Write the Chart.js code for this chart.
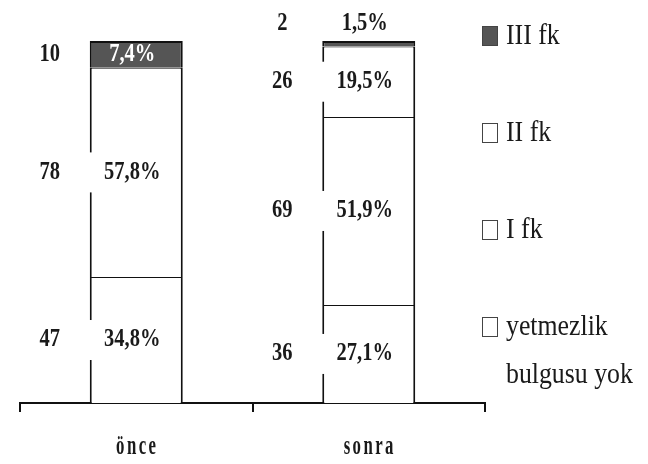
<!DOCTYPE html>
<html>
<head>
<meta charset="utf-8">
<script src="https://cdn.jsdelivr.net/npm/chart.js@4/dist/chart.umd.min.js"></script>
<style>
  html, body { margin: 0; padding: 0; background: #fff; }
</style>
</head>
<body>
<canvas id="fkChart" width="648" height="464"></canvas>
<script>
// Kategoriler ve seriler
const categories = ["önce", "sonra"];
const seriesNames = ["yetmezlik\nbulgusu yok", "I fk", "II fk", "III fk"];

// Hasta sayıları
const countYok = [47, 36];
const countI = [78, 69];
const countII = [0, 26];
const countIII = [10, 2];

// Yüzdeler (%)
const pctYok = [34.8, 27.1];
const pctI = [57.8, 51.9];
const pctII = [0, 19.5];
const pctIII = [7.4, 1.5];

const fills = ["#ffffff", "#ffffff", "#ffffff", "#555555"];
const ink = "#1a1a1a";
const serif = '"Liberation Serif", "Times New Roman", serif';

const datasets = [pctYok, pctI, pctII, pctIII].map((vals, i) => ({
  label: seriesNames[i],
  data: vals,
  counts: [countYok, countI, countII, countIII][i],
  backgroundColor: fills[i],
  borderColor: "#111111",
  borderWidth: { left: 2, right: 2, top: i === 3 ? 2 : 1, bottom: 0 },
  borderSkipped: false,
  barPercentage: 0.4,
  categoryPercentage: 1,
}));

// narrow text, like the condensed print font
function squeezeText(ctx, text, x, y, scaleX) {
  ctx.save();
  ctx.translate(x, y);
  ctx.scale(scaleX, 1);
  ctx.fillText(text, 0, 0);
  ctx.restore();
}

// percentage inside each segment, patient count to the left of the bar
const segmentLabels = {
  id: "segmentLabels",
  afterDatasetsDraw(chart) {
    const ctx = chart.ctx;
    ctx.save();
    ctx.font = "bold 25px " + serif;
    ctx.textAlign = "center";
    ctx.textBaseline = "middle";
    chart.data.datasets.forEach((ds, i) => {
      const meta = chart.getDatasetMeta(i);
      meta.data.forEach((bar, j) => {
        const v = ds.data[j];
        if (!v) return;
        const { x, y, base, width } = bar.getProps(["x", "y", "base", "width"], true);
        const small = v < 3;
        const cy = small ? y - 17 : (y + base) / 2;
        const px = x - 4;
        const pct = v.toFixed(1).replace(".", ",") + "%";
        const dark = ds.backgroundColor !== "#ffffff";
        if (!small && !dark) {
          ctx.fillStyle = "#ffffff";
          ctx.fillRect(px - 44, cy - 20, 88, 40);
        }
        ctx.fillStyle = dark && !small ? "#ffffff" : ink;
        squeezeText(ctx, pct, px, cy, 0.82);
        ctx.fillStyle = ink;
        squeezeText(ctx, String(ds.counts[j]), x - width / 2 - 40, cy, 0.82);
      });
    });
    ctx.restore();
  },
};

// category names under the axis and the legend on the right
const sideLegend = {
  id: "sideLegend",
  afterDraw(chart) {
    const ctx = chart.ctx;
    const area = chart.chartArea;
    const xScale = chart.scales.x;

    ctx.save();
    ctx.fillStyle = ink;
    ctx.font = "bold 28px " + serif;
    ctx.textAlign = "center";
    ctx.textBaseline = "middle";
    ctx.letterSpacing = "4px";
    categories.forEach((c, j) => {
      squeezeText(ctx, c, xScale.getPixelForValue(j) + 1, area.bottom + 44, 0.6);
    });
    ctx.letterSpacing = "0px";

    const bx = area.right - 3;
    ctx.font = "30px " + serif;
    ctx.textAlign = "left";
    const items = chart.data.datasets.slice().reverse();
    items.forEach((ds, k) => {
      const cy = area.top - 5 + k * 97;
      ctx.fillStyle = ds.backgroundColor;
      ctx.fillRect(bx, cy - 10, 16, 20);
      ctx.strokeStyle = "#444444";
      ctx.lineWidth = 1;
      ctx.strokeRect(bx + 0.5, cy - 9.5, 15, 19);
      ctx.fillStyle = ink;
      ds.label.split("\n").forEach((ln, m) => {
        squeezeText(ctx, ln, bx + 24, cy + m * 48, 0.86);
      });
    });
    ctx.restore();
  },
};

new Chart(document.getElementById("fkChart"), {
  type: "bar",
  data: { labels: categories, datasets: datasets },
  options: {
    responsive: false,
    animation: false,
    devicePixelRatio: 1,
    layout: { padding: { left: 20, right: 163, top: 41, bottom: 52 } },
    plugins: { legend: { display: false }, tooltip: { enabled: false } },
    scales: {
      x: {
        stacked: true,
        grid: {
          offset: true,
          drawOnChartArea: false,
          drawTicks: true,
          tickLength: 9,
          color: "#111111",
          lineWidth: 2,
        },
        border: { display: true, color: "#111111", width: 2 },
        ticks: { display: false },
      },
      y: {
        stacked: true,
        display: false,
        min: 0,
        max: 100,
      },
    },
  },
  plugins: [segmentLabels, sideLegend],
});
</script>
</body>
</html>
